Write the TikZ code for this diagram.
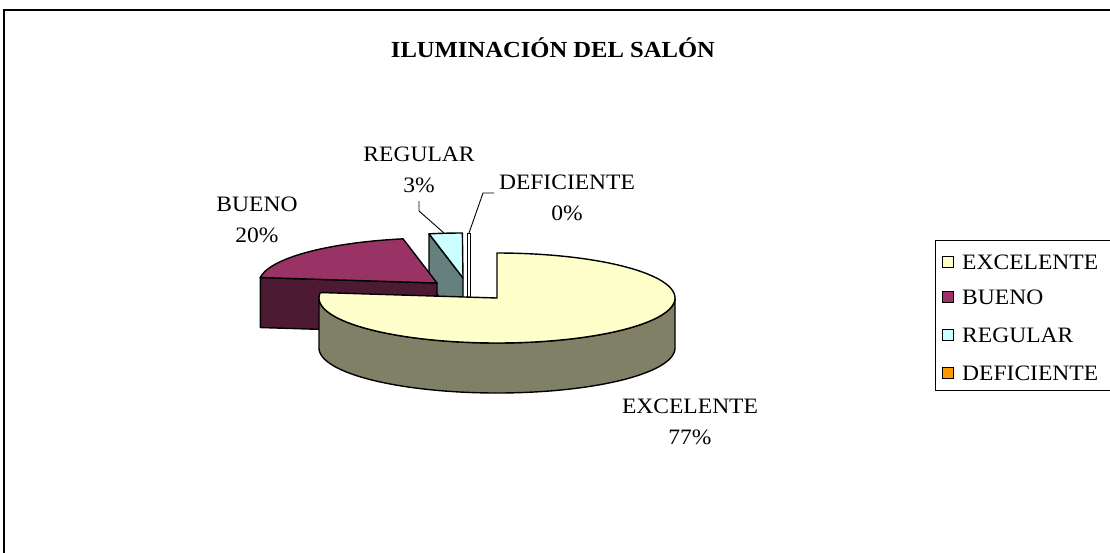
\documentclass[tikz,border=0pt]{standalone}
\usepackage{fontspec}
\setmainfont[FakeStretch=1.07]{Liberation Serif}
\definecolor{exTop}{HTML}{FFFFCC}
\definecolor{exSide}{HTML}{808066}
\definecolor{buTop}{HTML}{993366}
\definecolor{buSide}{HTML}{4D1A33}
\definecolor{reTop}{HTML}{CCFFFF}
\definecolor{reSide}{HTML}{668080}
\definecolor{deTop}{HTML}{FF9900}
\begin{document}
\begin{tikzpicture}[x=1pt,y=-1pt,
  slice/.style={draw=black,line width=1.4pt,line join=round},
  lbl/.style={font=\fontsize{22}{31}\selectfont,inner sep=0pt,align=center},
  leader/.style={draw=black,line width=0.9pt},
  keybox/.style={draw=black,line width=1.1pt,minimum size=11pt,inner sep=0pt},
  keytext/.style={font=\fontsize{22}{25}\selectfont,inner sep=0pt,anchor=west}]
\useasboundingbox (0,0) rectangle (1110,552);
\clip (0,0) rectangle (1110,552);
\fill[white] (0,0) rectangle (1110,552);
\draw[line width=1.3pt] (4,600) -- (4,10) -- (1200,10);
\def\rx{178}\def\ry{45}\def\dep{50}
% title
\node[font=\bfseries\fontsize{23}{26}\selectfont,inner sep=0pt] (title) at (553,48) {ILUMINACIÓN DEL SALÓN};
% REGULAR slice
\filldraw[slice,fill=reSide] (463,278) -- ({463+\rx*cos(101)},{278-\ry*sin(101)}) -- ++(0,\dep) -- (463,328) -- cycle;
\filldraw[slice,fill=reTop] (463,278) -- plot[domain=90.2:101,samples=10] ({463+\rx*cos(\x)},{278-\ry*sin(\x)}) -- cycle;
% DEFICIENTE slice
\filldraw[slice,fill=white,line width=1pt] (467,233) rectangle (470,328);
% BUENO slice
\filldraw[slice,fill=buSide] (437,283) -- ({437+\rx*cos(173)},{283-\ry*sin(173)}) -- ++(0,\dep) -- (437,333) -- cycle;
\filldraw[slice,fill=buTop] (437,283) -- plot[domain=101:173,samples=40] ({437+\rx*cos(\x)},{283-\ry*sin(\x)}) -- cycle;
% EXCELENTE slice
\filldraw[slice,fill=exSide] plot[domain=180:360,samples=90] ({497+\rx*cos(\x)},{298-\ry*sin(\x)}) -- plot[domain=360:180,samples=90] ({497+\rx*cos(\x)},{298+\dep-\ry*sin(\x)}) -- cycle;
\filldraw[slice,fill=exTop] (497,298) -- plot[domain=90:-187,samples=150] ({497+\rx*cos(\x)},{298-\ry*sin(\x)}) -- cycle;
% data labels
\node[lbl] (lbE) at (690,421.5) {EXCELENTE\\77\%};
\node[lbl] (lbB) at (257,219.5) {BUENO\\20\%};
\node[lbl] (lbR) at (419,170) {REGULAR\\3\%};
\node[lbl] (lbD) at (567,197.5) {DEFICIENTE\\0\%};
% leaders
\coordinate (rA) at (419,201);
\coordinate (rB) at (419,211);
\coordinate (rC) at (444,233);
\coordinate (dA) at (494,193);
\coordinate (dB) at (483,193);
\coordinate (dC) at (469,233);
\draw[leader] (rA) -- (rB) -- (rC);
\draw[leader] (dA) -- (dB) -- (dC);
% legend
\draw[line width=1pt] (1200,240) -- (935,240) -- (935,390) -- (1200,390);
\node[keybox,fill=exTop] (k1) at (948,262) {};
\node[keybox,fill=buTop] (k2) at (948,297) {};
\node[keybox,fill=reTop] (k3) at (948,335) {};
\node[keybox,fill=deTop] (k4) at (948,373) {};
\node[keytext] (t1) at (962,262) {EXCELENTE};
\node[keytext] (t2) at (962,297) {BUENO};
\node[keytext] (t3) at (962,335) {REGULAR};
\node[keytext] (t4) at (962,373) {DEFICIENTE};
\end{tikzpicture}
\end{document}
